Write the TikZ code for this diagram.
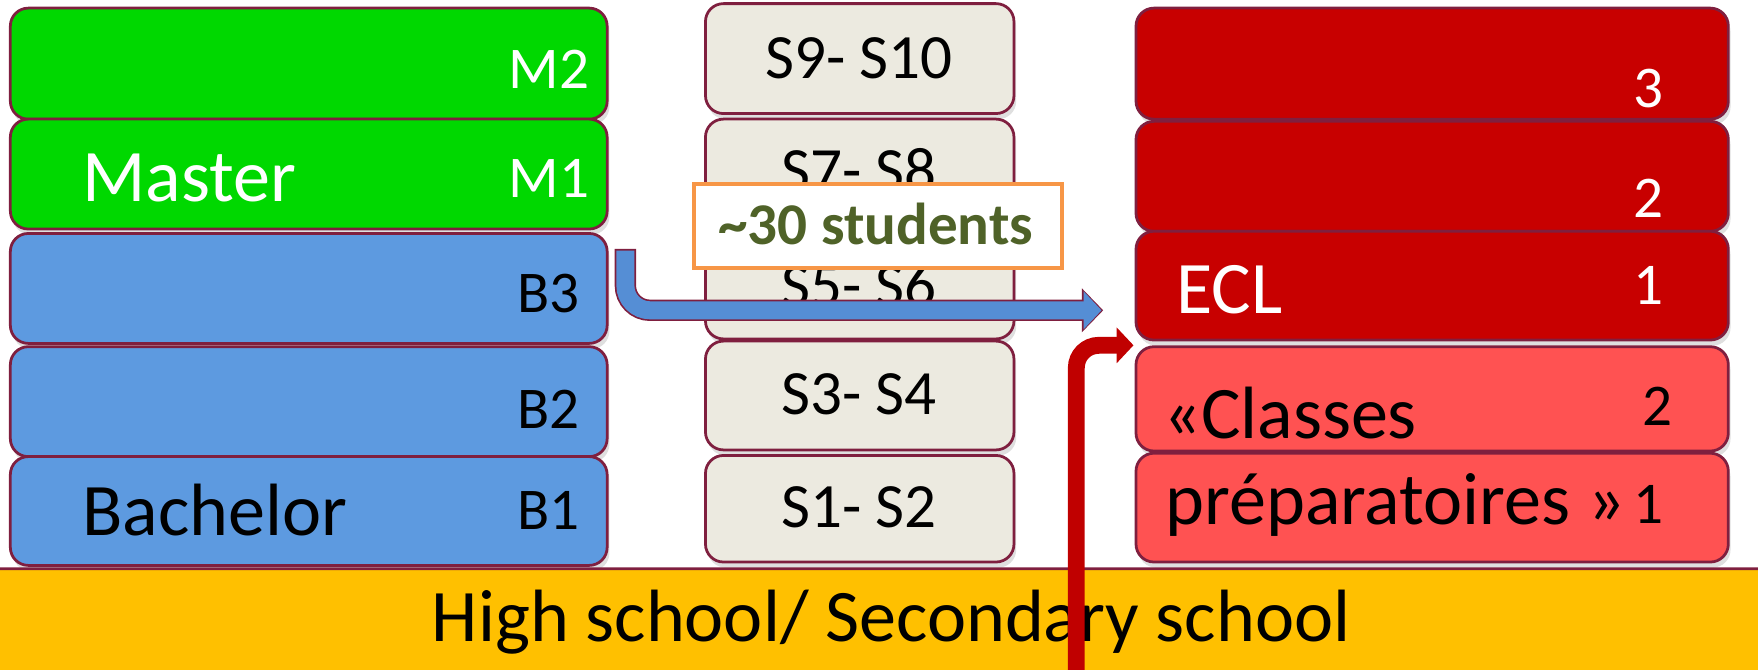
\documentclass[tikz,border=0pt]{standalone}
\usepackage{fontspec}
\setmainfont{Carlito}
\usetikzlibrary{arrows.meta,shadows}
\definecolor{edge}{HTML}{7F1F3F}
\definecolor{mgreen}{HTML}{00D800}
\definecolor{bblue}{HTML}{5D9AE0}
\definecolor{sbeige}{HTML}{ECEAE0}
\definecolor{eclred}{HTML}{C80000}
\definecolor{prepared}{HTML}{FF5252}
\definecolor{lycee}{HTML}{FFC000}
\definecolor{orangeline}{HTML}{F79646}
\definecolor{olive}{HTML}{4F6228}
\definecolor{arrowblue}{HTML}{558ED5}
\definecolor{arrowred}{HTML}{C00000}
\tikzset{
  level/.style={draw=edge, line width=0.7pt, rounded corners=0.16cm, inner sep=0pt, anchor=north west,
    drop shadow={opacity=0.25, shadow xshift=0.02cm, shadow yshift=-0.05cm}},
  big/.style={font=\fontsize{18.8}{22}\selectfont},
  small/.style={font=\fontsize{15}{18}\selectfont},
  mid/.style={font=\fontsize{16}{19}\selectfont}
}
\begin{document}
\begin{tikzpicture}[x=0.01cm, y=-0.01cm]
    \useasboundingbox (0,0) rectangle (1568,597);
    \node[level, fill=mgreen, minimum width=5.32cm, minimum height=0.99cm] (m2) at (8,6) {};
    \node[level, fill=mgreen, minimum width=5.32cm, minimum height=0.98cm] (m1) at (8,105) {};
    \node[level, fill=bblue, minimum width=5.32cm, minimum height=0.98cm] (b3) at (8,207) {};
    \node[level, fill=bblue, minimum width=5.32cm, minimum height=0.98cm] (b2) at (8,308) {};
    \node[level, fill=bblue, minimum width=5.32cm, minimum height=0.97cm] (b1) at (8,406) {};
    \node[small, white, anchor=east] (m2l) at (538,62) {M2};
    \node[small, white, anchor=east] (m1l) at (538,159) {M1};
    \node[big, white, anchor=west] (master) at (61,159) {Master};
    \node[small, anchor=east] (b3l) at (529,262) {B3};
    \node[small, anchor=east] (b2l) at (529,365) {B2};
    \node[small, anchor=east] (b1l) at (529,455) {B1};
    \node[big, anchor=west] (bachelor) at (61,455) {Bachelor};

    \node[level, fill=sbeige, minimum width=2.75cm, minimum height=0.98cm] (s9) at (628,2) {};
    \node[level, fill=sbeige, minimum width=2.75cm, minimum height=0.98cm] (s7) at (628,105) {};
    \node[level, fill=sbeige, minimum width=2.75cm, minimum height=0.96cm] (s5) at (628,205) {};
    \node[level, fill=sbeige, minimum width=2.75cm, minimum height=0.97cm] (s3) at (628,303) {};
    \node[level, fill=sbeige, minimum width=2.75cm, minimum height=0.95cm] (s1) at (628,405) {};
    \node[mid] (s9l) at (766,52) {S9- S10};
    \node[mid] (s7l) at (766,152) {S7- S8};
    \node[mid] (s5l) at (766,255) {S5- S6};
    \node[mid] (s3l) at (766,352) {S3- S4};
    \node[mid] (s1l) at (766,452) {S1- S2};

    \node[level, fill=eclred, minimum width=5.28cm, minimum height=0.99cm] (r3) at (1012,6) {};
    \node[level, fill=eclred, minimum width=5.28cm, minimum height=0.98cm] (r2) at (1012,107) {};
    \node[level, fill=eclred, minimum width=5.28cm, minimum height=0.97cm] (ecl) at (1012,205) {};
    \node[level, fill=prepared, minimum width=5.28cm, minimum height=0.93cm] (p2) at (1012,308) {};
    \node[level, fill=prepared, minimum width=5.28cm, minimum height=0.97cm] (p1) at (1012,403) {};
    \node[small, white] (r3l) at (1470,79) {3};
    \node[small, white] (r2l) at (1470,177) {2};
    \node[small, white] (r1l) at (1470,255) {1};
    \node[big, white, anchor=west] (ecll) at (1037,258) {ECL};
    \node[small] (p2l) at (1478,362) {2};
    \node[small] (p1l) at (1470,450) {1};
    \node[big, anchor=west] (classes) at (1025,368) {«Classes};
    \node[big, anchor=west] (prepa) at (1027,450) {préparatoires »};

    \node[draw=orangeline, line width=1.2pt, fill=white, anchor=north west, inner sep=0pt,
      minimum width=3.28cm, minimum height=0.75cm] (nb) at (617,162) {};
    \node[font=\fontsize{15}{18}\selectfont\bfseries, text=olive] (nbl) at (781,200) {\textasciitilde30 students};

    \coordinate (bstart) at ([xshift=0.15cm,yshift=-0.15cm]b3.north east);
    \coordinate (bend) at ([xshift=-0.28cm,yshift=-0.22cm]ecl.west);
    \draw[edge, line width=0.19cm, rounded corners=0.22cm, -{Triangle[width=0.38cm,length=0.19cm]}] (bstart) |- (bend);
    \draw[arrowblue, line width=0.16cm, rounded corners=0.22cm, -{Triangle[width=0.33cm,length=0.16cm]}] ([yshift=-0.015cm]bstart) |- ([xshift=-0.015cm]bend);

    \node[level, fill=lycee, minimum width=17.86cm, minimum height=2cm] (hs) at (-30,506) {};
    \node[big] (hsl) at (795,555) {High school/ Secondary school};

    \coordinate (rstart) at (960,620);
    \coordinate (rend) at ([xshift=-0.01cm]p2.north west);
    \draw[arrowred, line width=0.15cm, rounded corners=0.2cm, -{Triangle[width=0.31cm,length=0.15cm]}] (rstart) |- (rend);
\end{tikzpicture}
\end{document}
